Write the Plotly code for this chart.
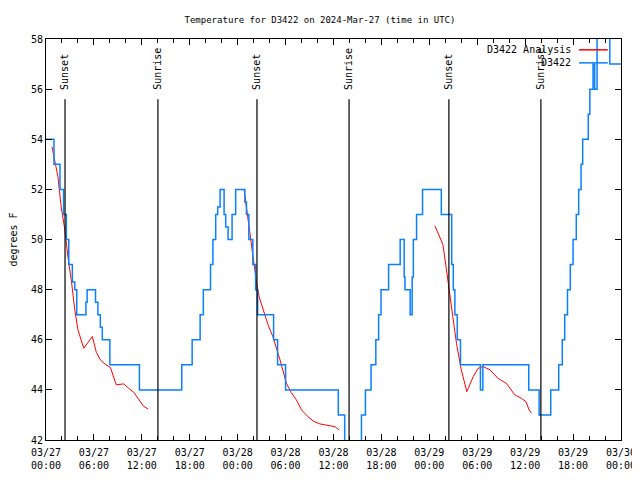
import pandas as pd
import plotly.graph_objects as go

BASE = pd.Timestamp("2024-03-27 00:00")

# Observed station temperature (hours after 03/27 00:00 UTC, degrees F)
obs_hours = [0.0, 0.75, 1.0, 1.47, 1.75, 2.0, 2.2, 2.55, 2.85, 3.3, 3.6, 3.85, 4.7, 5.0, 5.15, 6.0,
             6.2, 6.5, 6.8, 7.05, 7.85, 8.0, 11.55, 11.7, 16.8, 17.0, 18.1, 18.3, 19.1, 19.3, 19.7,
             20.3, 20.6, 20.9, 21.25, 21.5, 21.8, 22.1, 22.3, 22.5, 22.8, 23.1, 23.3, 23.75, 24.7,
             24.9, 25.1, 25.4, 25.9, 26.25, 26.5, 28.3, 28.5, 28.7, 29.0, 29.8, 30.0, 36.4, 36.6,
             37.2, 37.4, 38.4, 39.3, 39.5, 39.8, 40.0, 40.5, 40.7, 41.1, 41.3, 41.5, 41.65, 41.8,
             41.95, 42.75, 42.9, 44.2, 44.35, 44.7, 44.85, 44.95, 45.4, 45.6, 45.7, 45.85, 46.0,
             46.4, 47.0, 47.15, 49.3, 49.5, 50.45, 50.8, 51.0, 51.2, 51.5, 51.9, 54.2, 54.4, 54.5,
             54.7, 60.2, 60.45, 61.5, 61.75, 63.0, 63.2, 64.0, 64.2, 64.65, 64.95, 65.3, 65.65,
             66.0, 66.4, 66.7, 67.0, 67.2, 67.7, 67.9, 68.1, 68.5, 68.7, 69.0, 69.5, 70.0, 70.3,
             70.6, 72.0]
obs_temps = [54, 54, 53, 53, 52, 52, 51, 50, 49, 48.3, 48, 47, 47, 47.5, 48, 48,
             47.5, 47, 46.5, 46, 46, 45, 45, 44, 44, 45, 45, 46, 46, 47, 48,
             48, 49, 50, 51, 51.3, 52, 52, 51, 50.5, 50, 50, 51, 52, 52,
             51.5, 51, 50, 49, 48, 47, 47, 46, 46, 45, 45, 44, 44, 43,
             43, 41, 40, 41, 43, 43, 44, 44, 45, 45, 46, 46, 47, 47,
             48, 48, 49, 49, 50, 50, 48.5, 48, 48, 47, 47, 48.5, 50,
             51, 51, 52, 52, 51, 51, 49, 48, 47, 46, 45, 45, 44, 44,
             45, 45, 44, 44, 43, 43, 44, 44, 45, 46, 47, 48, 49,
             50, 51, 52, 53, 54, 54, 55, 56, 57, 56, 58.5, 59, 59, 58.5,
             57, 57]

# Analysis series (three separate runs)
ana_hours = [0.75, 1.5, 1.9, 2.35, 2.75, 3.2, 3.6, 4.0, 4.72, 5.8, 6.3, 6.8, 7.5, 8.06, 8.8, 9.73,
             10.4, 11.0, 11.5, 12.2, 12.8, None,
             24.8, 25.1, 25.5, 25.9, 26.35, 26.7, 27.2, 27.8, 28.4, 29.3, 30.1, 30.7, 31.35, 32.0,
             32.8, 33.5, 34.3, 35.5, 36.2, 36.7, None,
             48.7, 49.3, 49.7, 50.1, 50.45, 50.95, 51.4, 52.0, 52.7, 53.5, 54.1, 54.7, 55.6, 56.6,
             57.65, 58.7, 59.5, 60.1, 60.5, 60.8]
ana_temps = [53.7, 52.5, 51.3, 50.4, 49.3, 48.3, 47.2, 46.4, 45.66, 46.13, 45.5, 45.2, 45.0, 44.9,
             44.2, 44.24, 44.05, 43.9, 43.67, 43.35, 43.23, None,
             52.0, 51.3, 50.3, 49.3, 48.3, 47.7, 47.2, 46.6, 46.13, 45.2, 44.27, 43.9, 43.6, 43.2,
             42.93, 42.75, 42.64, 42.56, 42.53, 42.4, None,
             50.55, 50.1, 49.8, 48.9, 48.0, 46.9, 45.86, 44.8, 43.93, 44.53, 44.86, 44.93, 44.8,
             44.46, 44.26, 43.8, 43.67, 43.53, 43.2, 43.07]

sun_labels = ["Sunset", "Sunrise", "Sunset", "Sunrise", "Sunset", "Sunrise"]
sun_times = ["2024-03-27 02:23", "2024-03-27 14:01", "2024-03-28 02:25",
             "2024-03-28 13:57", "2024-03-29 02:27", "2024-03-29 13:58"]

legend_names = ["D3422 Analysis", "D3422"]
BLUE = "#0a80ff"
RED = "#ff0000"
FONT = "DejaVu Sans Mono"


def to_time(hours):
    return [None if h is None else BASE + pd.Timedelta(hours=h) for h in hours]


fig = go.Figure()
fig.add_trace(go.Scatter(x=to_time(ana_hours), y=ana_temps, mode="lines",
                         line=dict(color=RED, width=1), name=legend_names[0],
                         connectgaps=False, showlegend=False))
fig.add_trace(go.Scatter(x=to_time(obs_hours), y=obs_temps, mode="lines",
                         line=dict(color=BLUE, width=1.5, shape="hv"), name=legend_names[1],
                         showlegend=False))

for lab, t in zip(sun_labels, sun_times):
    fig.add_shape(type="line", xref="x", yref="paper", x0=t, x1=t, y0=0, y1=0.85,
                  line=dict(color="black", width=1.2))
    fig.add_annotation(x=t, xref="x", y=0.868, yref="paper", text=lab, textangle=-90,
                       showarrow=False, xanchor="center", yanchor="bottom",
                       font=dict(family=FONT, size=10, color="black"))

# legend drawn gnuplot-style (text right, sample line at right)
for i, (name, col) in enumerate(zip(legend_names, [RED, BLUE])):
    ypos = 0.973 - i * 0.0325
    fig.add_annotation(x=0.917, xref="paper", y=ypos, yref="paper", text=name,
                       showarrow=False, xanchor="right", yanchor="middle",
                       font=dict(family=FONT, size=10, color="black"))
    fig.add_shape(type="line", xref="paper", yref="paper", x0=0.927, x1=0.977,
                  y0=ypos, y1=ypos, line=dict(color=col, width=1.5))

# page body adds an 8px offset; figure sized so the plot box lands at (46..621, 39..440)
fig.update_layout(
    width=632, height=472,
    margin=dict(l=38, r=19, t=31, b=40, autoexpand=False),
    paper_bgcolor="white", plot_bgcolor="white",
    title=dict(text="Temperature for D3422 on 2024-Mar-27 (time in UTC)",
               x=312 / 632, xanchor="center", y=1 - 12 / 472, yanchor="middle",
               font=dict(family=FONT, size=9, color="black")),
    font=dict(family=FONT, size=10, color="black"),
    showlegend=False,
)
fig.update_xaxes(
    range=[BASE, BASE + pd.Timedelta(hours=72)], automargin=False,
    showgrid=False, zeroline=False,
    showline=True, linecolor="black", linewidth=1, mirror="ticks",
    ticks="inside", ticklen=6, tickcolor="black", tickwidth=1,
    dtick=6 * 3600 * 1000, tick0=BASE, tickformat="%m/%d<br>%H:%M",
    minor=dict(dtick=2 * 3600 * 1000, ticks="inside", ticklen=4, tickcolor="black", showgrid=False),
    tickfont=dict(family=FONT, size=10), ticklabelstandoff=3,
)
fig.update_yaxes(
    range=[42, 58], showgrid=False, zeroline=False, automargin=False,
    showline=True, linecolor="black", linewidth=1, mirror="ticks",
    ticks="inside", ticklen=6, tickcolor="black", tickwidth=1, dtick=2,
    title=dict(text="degrees F", font=dict(family=FONT, size=10), standoff=14),
    tickfont=dict(family=FONT, size=10),
)

fig.write_html("out.html")
